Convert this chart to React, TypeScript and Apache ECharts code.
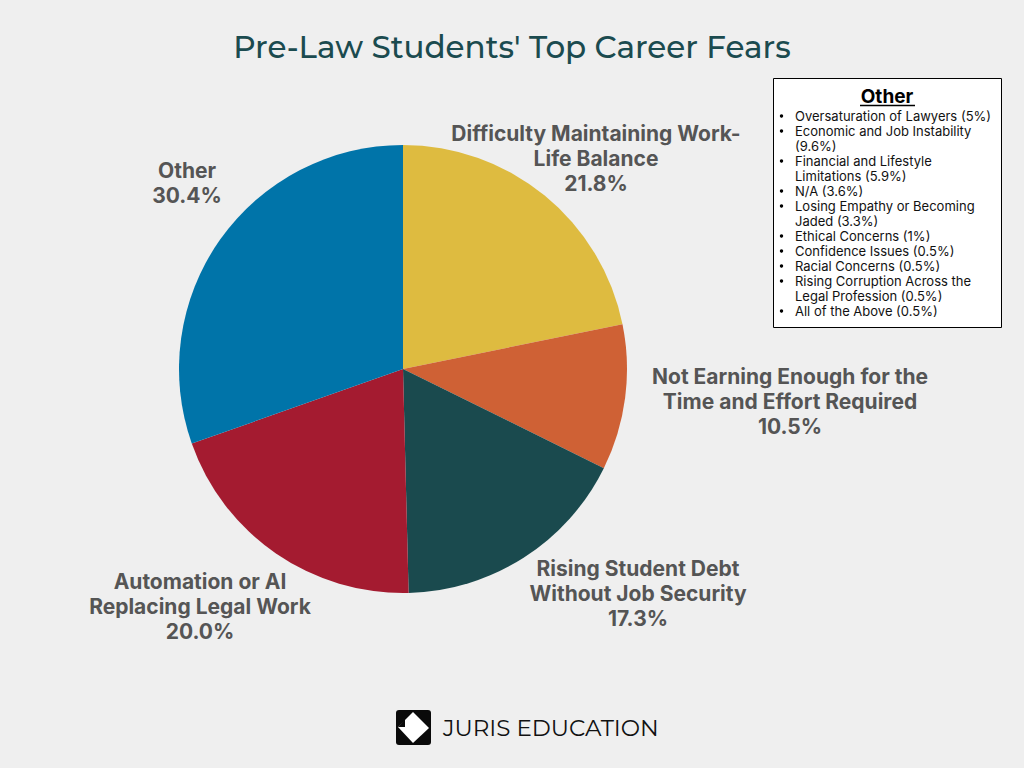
import React, { useEffect, useRef } from "react";
import * as echarts from "echarts";

const categories = [
  "Difficulty Maintaining Work-Life Balance",
  "Not Earning Enough for the Time and Effort Required",
  "Rising Student Debt Without Job Security",
  "Automation or AI Replacing Legal Work",
  "Other",
];
const labelTexts = [
  "Difficulty Maintaining Work-\nLife Balance",
  "Not Earning Enough for the\nTime and Effort Required",
  "Rising Student Debt\nWithout Job Security",
  "Automation or AI\nReplacing Legal Work",
  "Other",
];
const values = [21.8, 10.5, 17.3, 20.0, 30.4];
const colors = ["#DEBB40", "#CF6135", "#1A4A4E", "#A41B30", "#0074A9"];

const otherNames = [
  "Oversaturation of Lawyers",
  "Economic and Job Instability",
  "Financial and Lifestyle\nLimitations",
  "N/A",
  "Losing Empathy or Becoming\nJaded",
  "Ethical Concerns",
  "Confidence Issues",
  "Racial Concerns",
  "Rising Corruption Across the\nLegal Profession",
  "All of the Above",
];
const otherPcts = ["5", "9.6", "5.9", "3.6", "3.3", "1", "0.5", "0.5", "0.5", "0.5"];
const otherBreakBeforePct = [false, true, false, false, false, false, false, false, false, false];

const labelPos = [
  [596, 158],
  [790, 401],
  [638, 593],
  [200, 606],
  [187, 183],
];

const LEG_FONT = '13px "Inter"';

export default function App() {
  const ref = useRef<HTMLDivElement>(null);
  useEffect(() => {
    document.body.style.margin = "0";
    const chart = echarts.init(ref.current!, null, { renderer: "svg" });

    const legendEls: any[] = [];
    let line = 0;
    const x0 = 795;
    const y0 = 116;
    const lh = 15;
    otherNames.forEach((n, i) => {
      const full = `${n}${otherBreakBeforePct[i] ? "\n" : " "}(${otherPcts[i]}%)`;
      const lines = full.split("\n");
      legendEls.push({
        type: "circle",
        shape: { cx: 781.5, cy: y0 + line * lh, r: 1.7 },
        style: { fill: "#000" },
      });
      lines.forEach((l) => {
        legendEls.push({
          type: "text",
          x: x0,
          y: y0 + line * lh,
          style: {
            text: l,
            font: LEG_FONT,
            fill: "#111",
            verticalAlign: "middle",
          },
        });
        line++;
      });
    });

    chart.setOption({
      animation: false,
      backgroundColor: "#EFEFEF",
      title: {
        text: "Pre-Law Students' Top Career Fears",
        left: "center",
        top: 26,
        textStyle: {
          fontFamily: "Montserrat",
          fontWeight: 500,
          fontSize: 31,
          color: "#1B4B4F",
        },
      },
      graphic: [
        {
          type: "rect",
          shape: { x: 773.5, y: 78.5, width: 228, height: 249 },
          style: { fill: "#fff", stroke: "#000", lineWidth: 1 },
        },
        {
          type: "text",
          x: 887,
          y: 96,
          style: {
            text: "Other",
            font: 'bold 19px "Inter"',
            fill: "#000",
            align: "center",
            verticalAlign: "middle",
          },
        },
        {
          type: "line",
          shape: { x1: 860, y1: 105.5, x2: 915, y2: 105.5 },
          style: { stroke: "#000", lineWidth: 1.5 },
        },
        ...legendEls,
        {
          type: "rect",
          shape: { x: 396, y: 710, width: 35, height: 35, r: 3 },
          style: { fill: "#0a0a0a" },
        },
        {
          type: "polygon",
          shape: {
            points: [
              [398, 727],
              [413, 712],
              [429, 728],
              [413, 743],
            ],
          },
          style: { fill: "#fff" },
        },
        {
          type: "polygon",
          shape: {
            points: [
              [398, 727],
              [405, 719],
              [405, 727],
            ],
          },
          style: { fill: "#0a0a0a" },
        },
        {
          type: "text",
          x: 443,
          y: 728,
          style: {
            text: "JURIS EDUCATION",
            font: '400 23px "Montserrat"',
            fill: "#111",
            verticalAlign: "middle",
          },
        },
      ],
      series: [
        {
          type: "pie",
          center: [403, 369],
          radius: 224,
          startAngle: 90,
          clockwise: true,
          data: categories.map((c, i) => ({
            name: c,
            value: values[i],
            itemStyle: { color: colors[i] },
          })),
          label: {
            show: true,
            position: "outside",
            formatter: (p: any) => `${labelTexts[p.dataIndex]}\n${p.value.toFixed(1)}%`,
            fontFamily: "Inter",
            fontWeight: "bold",
            fontSize: 21,
            lineHeight: 25,
            color: "#555555",
            align: "center",
          },
          labelLine: { show: false },
          labelLayout: (p: any) => ({
            x: labelPos[p.dataIndex][0],
            y: labelPos[p.dataIndex][1],
            align: "center",
            verticalAlign: "middle",
          }),
          emphasis: { disabled: true },
        },
      ],
    });
    return () => chart.dispose();
  }, []);
  return <div ref={ref} style={{ width: 1024, height: 768 }} />;
}
